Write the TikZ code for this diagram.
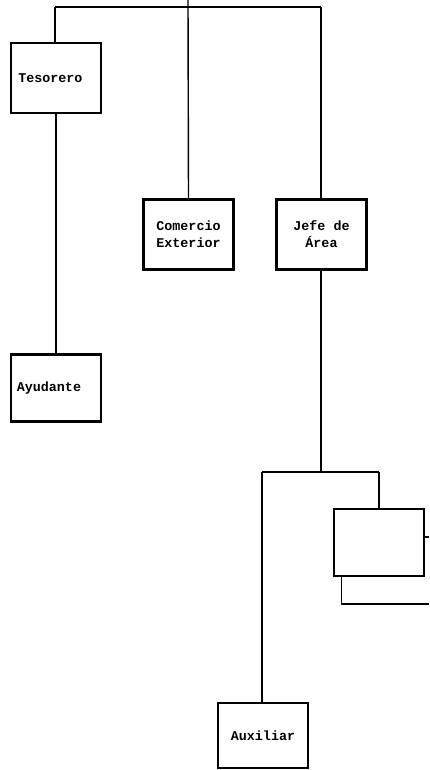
\documentclass[tikz,border=0pt]{standalone}
\usepackage{fontspec}
\setmonofont{Liberation Mono}
\usetikzlibrary{positioning}
\tikzset{
  box/.style={draw, line width=2pt, minimum width=2.25cm, minimum height=1.75cm,
    align=center, font=\ttfamily\bfseries\fontsize{9.5}{12}\selectfont},
  link/.style={line width=1pt}
}
\begin{document}
\begin{tikzpicture}[x=0.025cm, y=-0.025cm]
        \useasboundingbox (0,0) rectangle (429,770);
        % Boxes
        \node[box] (tesorero) at (56,78) {\hspace*{-8pt}Tesorero};
        \node[box, minimum height=1.675cm] (ayudante) at (56,388) {\hspace*{-10pt}Ayudante};
        \node[box] (comercio) at (188.5,234.5) {Comercio\\Exterior};
        \node[box] (jefe) at (321.5,234.5) {Jefe de\\Área};
        \node[box, minimum height=1.675cm] (vacio) at (379,542.5) {};
        \node[box, minimum height=1.625cm] (auxiliar) at (263,735.5) {Auxiliar};

        % Top branch
        \coordinate (arriba) at (188,0);
        \coordinate (izq) at (55,7);
        \coordinate (der) at (321,7);
        \draw[link] (arriba) -- (comercio.north);
        \draw[link] (izq) -- (der);
        \draw[link] (izq) -- (izq |- tesorero.north);
        \draw[link] (der) -- (der |- jefe.north);
        \draw[link] (tesorero) -- (ayudante);

        % Jefe de Area branch
        \coordinate (rama) at (321,472);
        \coordinate (rizq) at (262,472);
        \coordinate (rder) at (379,472);
        \draw[link] (jefe.south -| rama) -- (rama);
        \draw[link] (rizq) -- (rder);
        \draw[link] (rder) -- (vacio.north);
        \draw[link] (rizq) -- (rizq |- auxiliar.north);

        % loose ends on the right
        \coordinate (salida) at (429,537);
        \coordinate (retorno) at (429,604);
        \draw[link] (vacio.east |- salida) -- (salida);
        \draw[link] ([xshift=9*0.025cm]vacio.south west) |- (retorno);
\end{tikzpicture}
\end{document}
